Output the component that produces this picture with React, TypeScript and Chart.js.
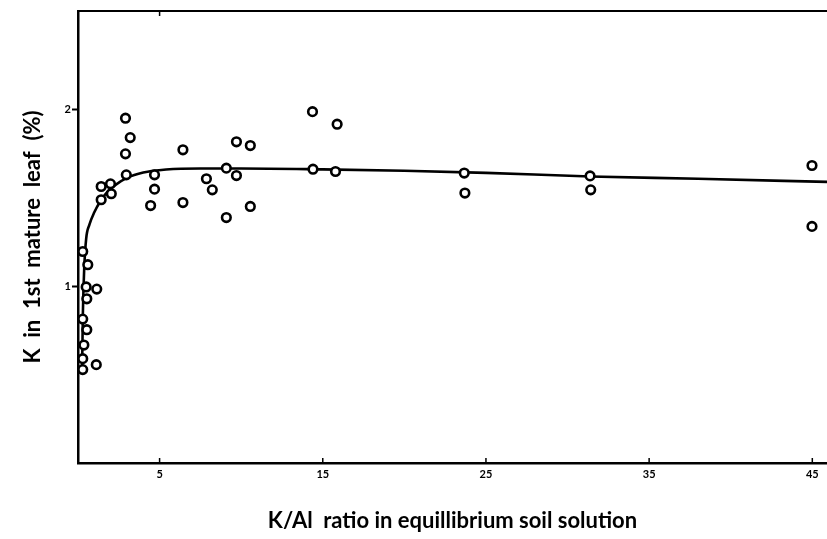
import React, { useEffect, useRef } from "react";
import { Chart, registerables } from "chart.js";

Chart.register(...registerables);

// Observed data points (K/Al ratio, K %)
const pointX = [
  0.29, 0.6, 0.5, 1.15, 0.54, 0.29, 0.54, 0.36, 0.29, 1.12, 0.29,
  2.91, 3.2, 2.91, 2.96, 1.42, 1.99, 1.42, 2.04, 4.69, 4.69, 4.45,
  6.43, 6.43, 7.87, 8.23, 9.09, 9.71, 9.09, 9.71, 10.56, 10.56,
  14.37, 15.88, 14.4, 15.78, 23.67, 23.71, 31.38, 31.42, 44.98, 44.98,
];
const pointY = [
  1.198, 1.123, 0.997, 0.985, 0.93, 0.815, 0.755, 0.668, 0.591, 0.557, 0.529,
  1.953, 1.843, 1.751, 1.632, 1.566, 1.581, 1.491, 1.525, 1.632, 1.551, 1.458,
  1.774, 1.475, 1.61, 1.547, 1.67, 1.628, 1.39, 1.819, 1.798, 1.453,
  1.99, 1.919, 1.664, 1.651, 1.642, 1.529, 1.626, 1.547, 1.685, 1.34,
];

// Fitted curve
const curveX = [0.25, 0.3, 0.38, 0.5, 0.7, 1.0, 1.35, 1.8, 2.3, 3.0, 4.0, 5.4, 7.5, 10, 15, 20, 25, 31.4, 38, 45.9];
const curveY = [0.53, 0.85, 1.1, 1.27, 1.35, 1.42, 1.48, 1.535, 1.575, 1.615, 1.645, 1.662, 1.668, 1.668, 1.663, 1.655, 1.643, 1.623, 1.61, 1.592];

const xTickValues = [5, 15, 25, 35, 45];
const yTickValues = [1, 2];
const topTickValues = [5];
const xTitle = "K/Al  ratio in equillibrium soil solution";
const yTitle = "K  in  1st  mature  leaf  (%)";

const FONT = "Lato, 'Open Sans', sans-serif";

export default function App() {
  const ref = useRef<HTMLCanvasElement>(null);

  useEffect(() => {
    document.body.style.margin = "0";
    const canvas = ref.current;
    if (!canvas) return;

    const framePlugin = {
      id: "frame",
      afterDraw(chart: any) {
        const ctx = chart.ctx;
        const area = chart.chartArea;
        const xs = chart.scales.x;
        ctx.save();
        ctx.strokeStyle = "#000";
        ctx.lineWidth = 2;
        ctx.beginPath();
        ctx.moveTo(area.left - 1, area.top);
        ctx.lineTo(area.right, area.top);
        ctx.stroke();
        ctx.lineWidth = 1.5;
        ctx.beginPath();
        xTickValues.forEach((v) => {
          const px = xs.getPixelForValue(v);
          ctx.moveTo(px, area.bottom);
          ctx.lineTo(px, area.bottom - 5);
        });
        topTickValues.forEach((v) => {
          const px = xs.getPixelForValue(v);
          ctx.moveTo(px, area.top);
          ctx.lineTo(px, area.top + 5);
        });
        ctx.stroke();
        ctx.restore();
      },
    };

    const chart = new Chart(canvas, {
      type: "scatter",
      data: {
        datasets: [
          {
            label: "observed",
            data: pointX.map((x, i) => ({ x, y: pointY[i] })),
            pointRadius: 4.3,
            pointBorderWidth: 2.6,
            pointBorderColor: "#000",
            pointBackgroundColor: "#fff",
            showLine: false,
            clip: false,
            order: 0,
          },
          {
            label: "fit",
            type: "line",
            data: curveX.map((x, i) => ({ x, y: curveY[i] })),
            borderColor: "#000",
            borderWidth: 2.6,
            pointRadius: 0,
            fill: false,
            cubicInterpolationMode: "monotone",
            order: 1,
          } as any,
        ],
      },
      options: {
        animation: false,
        responsive: true,
        maintainAspectRatio: false,
        layout: { autoPadding: false, padding: { top: 11, right: 0, left: 0, bottom: 0 } },
        plugins: {
          legend: { display: false },
          tooltip: { enabled: false },
        },
        scales: {
          x: {
            type: "linear",
            min: 0,
            max: 45.9,
            afterBuildTicks: (s: any) => {
              s.ticks = xTickValues.map((v) => ({ value: v }));
            },
            afterFit: (s: any) => {
              s.height = 76;
              s.paddingLeft = 0;
              s.paddingRight = 0;
            },
            grid: { display: false, drawTicks: false },
            border: { display: true, color: "#000", width: 2.5 },
            ticks: {
              color: "#000",
              font: { family: FONT, weight: "bold", size: 11 },
              padding: 5,
              maxRotation: 0,
              autoSkip: false,
            },
            title: {
              display: true,
              text: xTitle,
              color: "#000",
              font: { family: FONT, weight: "bold", size: 22 },
              padding: { top: 0, bottom: 5 },
            },
          },
          y: {
            type: "linear",
            min: 0,
            max: 2.56,
            afterBuildTicks: (s: any) => {
              s.ticks = yTickValues.map((v) => ({ value: v }));
            },
            afterFit: (s: any) => {
              s.width = 78;
              s.paddingTop = 0;
              s.paddingBottom = 0;
            },
            grid: {
              display: true,
              drawOnChartArea: false,
              drawTicks: true,
              tickLength: 6,
              tickColor: "#000",
              tickWidth: 2,
            },
            border: { display: true, color: "#000", width: 2.5 },
            ticks: {
              color: "#000",
              font: { family: FONT, weight: "bold", size: 11 },
              padding: 1,
              autoSkip: false,
            },
            title: {
              display: true,
              text: yTitle,
              color: "#000",
              font: { family: FONT, weight: "bold", size: 22 },
              padding: { top: 20, bottom: 0 },
            },
          },
        },
      },
      plugins: [framePlugin],
    });

    return () => chart.destroy();
  }, []);

  return (
    <div style={{ position: "absolute", left: 0, top: 0, width: 827, height: 539 }}>
      <canvas ref={ref} />
    </div>
  );
}
